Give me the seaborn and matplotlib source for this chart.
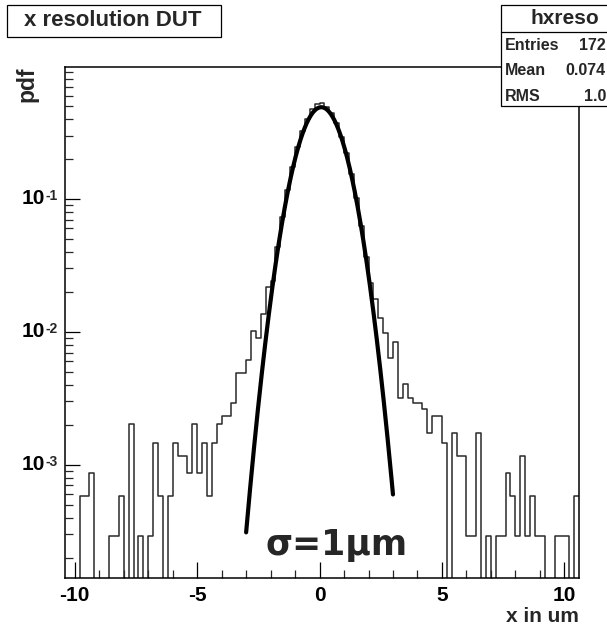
import numpy as np
import pandas as pd
import matplotlib
matplotlib.use("Agg")
import matplotlib.pyplot as plt
import seaborn as sns
from matplotlib.ticker import FixedLocator, NullFormatter
from matplotlib.patches import Rectangle
from matplotlib.lines import Line2D

# ---------------- data ----------------
x_low, x_high, bin_width = -10.4, 10.6, 0.2
bin_counts = [
    0, 0, 0, 2, 2, 3, 0, 0, 0, 1, 1, 2, 0, 7, 0, 1, 0, 1, 5, 2,
    0, 2, 5, 4, 4, 3, 7, 3, 5, 2, 5, 7, 8, 8, 10, 17, 17, 21, 35, 31,
    47, 75, 83, 150, 250, 400, 600, 840, 1110, 1380, 1620, 1790, 1800, 1700, 1530, 1280,
    1010, 760, 530, 350, 215, 125, 80, 61, 44, 34, 22, 29, 11, 14,
    11, 10, 10, 9, 6, 8, 8, 5, 0, 6, 4, 4, 1, 1, 6, 0, 1, 0, 1, 1,
    3, 2, 1, 4, 1, 2, 1, 1, 0, 0, 1, 1, 1, 0, 2,
]
n_entries = 17200
fit_amp, fit_mean, fit_sigma = 0.49, 0.07, 0.80
fit_lo, fit_hi = -3.0, 3.0
x_major = [-10, -5, 0, 5, 10]
x_tick_labels = ["-10", "-5", "0", "5", "10"]
x_minor = [-9, -8, -7, -6, -4, -3, -2, -1, 1, 2, 3, 4, 6, 7, 8, 9]
y_major = [1e-3, 1e-2, 1e-1]
y_tick_base = "10"
y_tick_exponents = ["-3", "-2", "-1"]
y_lim = (1.41e-4, 0.983)
title_text = "x resolution DUT"
stat_name = "hxreso"
stat_rows = [("Entries", "172"), ("Mean", "0.074"), ("RMS", "1.0")]
x_title = "x in um"
y_title = "pdf"
note_text = "σ=1μm"

# ---------------- build table ----------------
edges = [x_low + bin_width * i for i in range(len(bin_counts) + 1)]
centers = [0.5 * (edges[i] + edges[i + 1]) for i in range(len(bin_counts))]
df = pd.DataFrame({"x": centers, "pdf": np.array(bin_counts) / (n_entries * bin_width)})
xf = np.linspace(fit_lo, fit_hi, 300)
fit_df = pd.DataFrame({"x": xf, "y": fit_amp * np.exp(-0.5 * ((xf - fit_mean) / fit_sigma) ** 2)})

# ---------------- figure ----------------
sns.set_theme(style="white")
plt.rcParams["font.family"] = ["Liberation Sans", "DejaVu Sans"]

W, H = 607, 628
fig = plt.figure(figsize=(W / 100, H / 100), dpi=100)
fig.patch.set_facecolor("white")
L, R, T, B = 65, 579, 67, 578
ax = fig.add_axes([L / W, 1 - B / H, (R - L) / W, (B - T) / H])

sns.histplot(data=df, x="x", weights="pdf", bins=edges, element="step", fill=False,
             color="#2a2a2a", linewidth=1.1, ax=ax)
ax.set_yscale("log")
sns.lineplot(data=fit_df, x="x", y="y", color="black", linewidth=3.0, ax=ax)

ax.set_xlim(x_low, x_high)
ax.set_ylim(*y_lim)
ax.set_xlabel("")
ax.set_ylabel("")
for s in ax.spines.values():
    s.set_color("black")
    s.set_linewidth(1.1)

ax.xaxis.set_major_locator(FixedLocator(x_major))
ax.xaxis.set_minor_locator(FixedLocator(x_minor))
ax.set_xticklabels(x_tick_labels)
ax.yaxis.set_major_locator(FixedLocator(y_major))
y_minor = [m * 10.0 ** e for e in range(-4, 0) for m in range(2, 10)]
ax.yaxis.set_minor_locator(FixedLocator(y_minor))
ax.yaxis.set_minor_formatter(NullFormatter())
ax.set_yticklabels([y_tick_base] * len(y_major))
ax.tick_params(axis="x", which="major", direction="in", length=11.3, width=0.9,
               pad=6, labelsize=15, colors="black", bottom=True, top=False)
ax.tick_params(axis="x", which="minor", direction="in", length=5.8, width=0.9,
               bottom=True, top=False)
ax.tick_params(axis="y", which="major", direction="in", length=10.8, width=0.9,
               pad=14.3, labelsize=15, colors="black", left=True, right=False)
ax.tick_params(axis="y", which="minor", direction="in", length=5.8, width=0.9,
               left=True, right=False)
for lab in ax.get_xticklabels() + ax.get_yticklabels():
    lab.set_fontweight("bold")
for lab in ax.get_yticklabels():
    lab.set_verticalalignment("center")
# exponents of the decade labels
ytr = ax.get_yaxis_transform()
for val, ex in zip(y_major, y_tick_exponents):
    ax.text((46 - L) / (R - L), val * 10 ** (2.5 / 133), ex, transform=ytr, ha="left", va="center",
            fontsize=10, fontweight="bold", clip_on=False)

def fx(px):
    return px / W

def fy(py):
    return 1 - py / H

# title box
fig.patches.append(Rectangle((fx(7), fy(37)), (221 - 7) / W, (37 - 5) / H, transform=fig.transFigure,
                             facecolor="white", edgecolor="black", linewidth=0.9))
fig.text(fx(113), fy(21), title_text, ha="center", va="center", fontsize=16, fontweight="bold")

# stats box
fig.patches.append(Rectangle((fx(501), fy(106)), (620 - 501) / W, (106 - 5) / H, transform=fig.transFigure,
                             facecolor="white", edgecolor="black", linewidth=0.9, zorder=5))
fig.lines.append(Line2D([fx(501), fx(620)], [fy(32), fy(32)], transform=fig.transFigure,
                        color="black", linewidth=0.9, zorder=6))
fig.text(fx(565), fy(19), stat_name, ha="center", va="center", fontsize=15, fontweight="bold", zorder=7)
for i, (k, v) in enumerate(stat_rows):
    yy = 45 + i * 25.8
    fig.text(fx(505), fy(yy), k, ha="left", va="center", fontsize=11.5, fontweight="bold", zorder=7)
    fig.text(fx(606), fy(yy), v, ha="right", va="center", fontsize=11.5, fontweight="bold", zorder=7)

# axis titles
fig.text(fx(579), fy(617), x_title, ha="right", va="center", fontsize=15, fontweight="bold")
fig.text(fx(27), fy(67), y_title, ha="center", va="top", rotation=90, fontsize=16.5, fontweight="bold")

# annotation
ax.text(-2.2, 2.1e-4, note_text, fontsize=25, fontweight="bold", family=["DejaVu Sans"],
        ha="left", va="baseline")

fig.savefig("out.png", dpi=100, facecolor="white")
